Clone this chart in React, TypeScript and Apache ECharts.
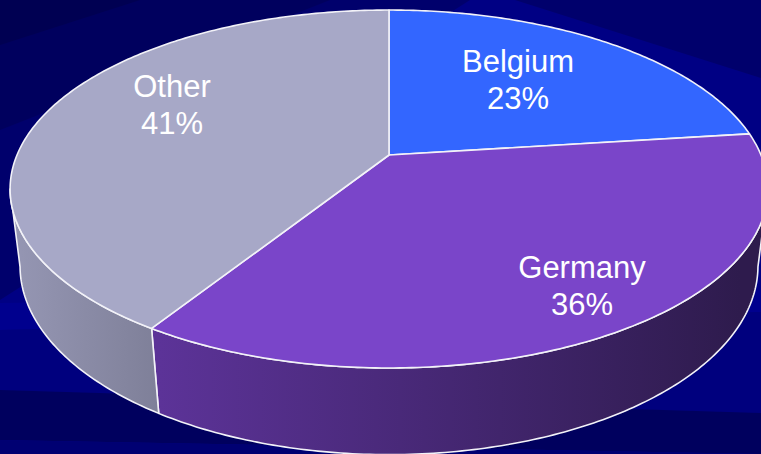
import React, { useEffect, useRef } from "react";
import * as echarts from "echarts";

// ---- data ----
const categories = ["Belgium", "Germany", "Other"];
const values = [23, 36, 41];

// ---- layout / style constants ----
const W = 761;
const H = 454;
const START_DEG = 90; // first slice starts at 12 o'clock, clockwise
const CX = 389; // projected pie centre
const CY = 155;
const RX = 372; // horizontal scale
const RY = 172.5; // vertical scale of the top face
const PERSP = 0.19; // perspective factor (depth)
const THICK = 78; // wall thickness
const PERSP_B = 0.026; // extra depth of the bottom rim

const TOP_COLORS = ["#3366ff", "#7a45c9", "#a7a8c7"];
const WALL_GRAD: [string, string, number, number][] = [
  ["#2a4fc0", "#1d3a90", 400, 761],
  ["#5c3398", "#2e1b4d", 160, 740],
  ["#9596b3", "#7e7f98", 15, 162],
];
const LABEL_POS: [number, number][] = [
  [518, 80],
  [582, 286],
  [172, 105],
];

const rad = (d: number) => (d * Math.PI) / 180;
function topPt(deg: number, r = 1): number[] {
  const X = r * Math.cos(rad(deg));
  const Z = r * Math.sin(rad(deg));
  const D = 1 + PERSP * Z;
  return [CX + (RX * X) / D, CY - (RY * Z) / D];
}
function botPt(deg: number): number[] {
  const X = Math.cos(rad(deg));
  const Z = Math.sin(rad(deg));
  const D = 1 + PERSP * Z + PERSP_B;
  return [CX + (RX * X) / D, CY + (THICK - RY * Z) / D];
}
const TAN = (Math.asin(PERSP) * 180) / Math.PI;
const FRONT_LO = -180 + TAN;
const FRONT_HI = -TAN;

function arc(a: number, b: number, f: (d: number) => number[]): number[][] {
  const n = Math.max(6, Math.ceil(Math.abs(b - a) / 0.75));
  const out: number[][] = [];
  for (let s = 0; s <= n; s++) out.push(f(a + ((b - a) * s) / n));
  return out;
}

export default function App() {
  const ref = useRef<HTMLDivElement>(null);
  useEffect(() => {
    if (!ref.current) return;
    const chart = echarts.init(ref.current, undefined, { renderer: "svg" });
    const total = values.reduce((a, b) => a + b, 0);

    const renderItem = (params: any, api: any) => {
      const i = params.dataIndex;
      const v = api.value(0);
      const before = values.slice(0, i).reduce((a, b) => a + b, 0);
      const a0 = START_DEG - (360 * before) / total;
      const a1 = a0 - (360 * v) / total;
      const children: any[] = [];

      // side wall (front-facing part only)
      for (const shift of [-360, 0, 360]) {
        const lo = Math.max(a1, FRONT_LO + shift);
        const hi = Math.min(a0, FRONT_HI + shift);
        if (hi > lo) {
          const pts = arc(hi, lo, topPt).concat(arc(lo, hi, botPt));
          const g = WALL_GRAD[i];
          children.push({
            type: "polygon",
            z2: 1,
            shape: { points: pts },
            style: {
              fill: new echarts.graphic.LinearGradient(
                g[2], 0, g[3], 0,
                [
                  { offset: 0, color: g[0] },
                  { offset: 1, color: g[1] },
                ],
                true
              ),
              stroke: "#f2f2f8",
              lineWidth: 1.6,
              lineJoin: "round",
            },
          });
        }
      }

      // top face
      const topPts = [[CX, CY]].concat(arc(a0, a1, (d) => topPt(d)));
      children.push({
        type: "polygon",
        z2: 10,
        shape: { points: topPts },
        style: {
          fill: TOP_COLORS[i],
          stroke: "#f2f2f8",
          lineWidth: 1.6,
          lineJoin: "round",
        },
      });

      // label
      const pct = Math.round((v / total) * 100);
      children.push({
        type: "text",
        z2: 20,
        x: LABEL_POS[i][0],
        y: LABEL_POS[i][1],
        style: {
          text: `${categories[i]}\n${pct}%`,
          fill: "#ffffff",
          fontSize: 31,
          fontFamily: '"Liberation Sans", Arial, sans-serif',
          align: "center",
          verticalAlign: "middle",
          lineHeight: 37,
        },
      });

      return { type: "group", children };
    };

    const bg = (points: number[][], fill: string) => ({
      type: "polygon",
      silent: true,
      z: 0,
      shape: { points },
      style: { fill },
    });

    chart.setOption({
      animation: false,
      backgroundColor: "#000084",
      graphic: {
        elements: [
          bg([[0, 0], [470, 0], [0, 300]], "#00006c"),
          bg([[0, 0], [330, 0], [0, 130]], "#00005e"),
          bg([[0, 0], [140, 0], [0, 45]], "#000052"),
          bg([[515, 0], [761, 0], [761, 78]], "#00006c"),
          bg([[0, 303], [761, 290], [761, 312], [0, 330]], "#00008e"),
          bg([[0, 330], [761, 312], [761, 413], [0, 390]], "#00007e"),
          bg([[0, 390], [761, 413], [761, 454], [0, 440]], "#00005e"),
          bg([[0, 440], [761, 454], [0, 454]], "#000072"),
        ],
      },
      series: [
        {
          type: "custom",
          coordinateSystem: "none",
          silent: true,
          z: 2,
          renderItem,
          data: values.map((v) => [v]),
        },
      ],
    });
    return () => chart.dispose();
  }, []);
  return (
    <div
      ref={ref}
      style={{ position: "fixed", left: 0, top: 0, width: W, height: H }}
    />
  );
}
